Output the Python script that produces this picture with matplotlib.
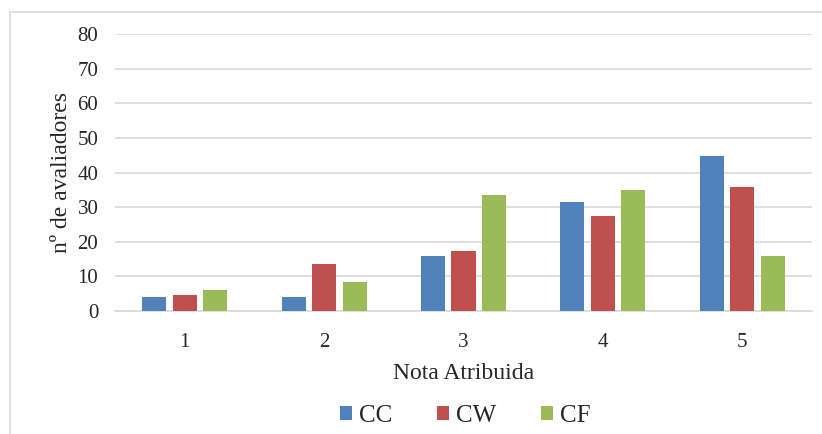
import numpy as np
import matplotlib
matplotlib.use("Agg")
import matplotlib.pyplot as plt
from matplotlib.patches import Rectangle

# data
notas = ["1", "2", "3", "4", "5"]
series = ["CC", "CW", "CF"]
cc = [3.9, 3.9, 16.0, 31.4, 44.8]
cw = [4.7, 13.7, 17.4, 27.5, 35.9]
cf = [6.2, 8.5, 33.6, 35.0, 15.9]
colors = ["#4F81BD", "#C0504D", "#9BBB59"]
yticks = [0, 10, 20, 30, 40, 50, 60, 70, 80]

plt.rcParams['font.family'] = ['Liberation Serif', 'DejaVu Serif']

fig = plt.figure(figsize=(8.22, 4.34), dpi=100)
ax = fig.add_axes([115/822, 1 - 311/434, 697/822, 277/434])

x = np.arange(len(notas))
w = 0.173
step = 0.219
for i, (vals, name) in enumerate(zip([cc, cw, cf], series)):
    ax.bar(x + (i - 1)*step, vals, w, color=colors[i], label=name, zorder=3)

ax.set_xlim(-0.5, len(notas) - 0.5)
ax.set_ylim(0, 80)
ax.set_yticks(yticks)
ax.set_xticks(x)
ax.set_xticklabels(notas)
ax.grid(axis='y', color='#D9D9D9', linewidth=1.2, zorder=0)
for s in ['top', 'right', 'left']:
    ax.spines[s].set_visible(False)
ax.spines['bottom'].set_color('#D9D9D9')
ax.spines['bottom'].set_linewidth(1.2)
ax.tick_params(axis='both', length=0, labelsize=15, colors='#262626')
ax.tick_params(axis='x', pad=16)
ax.tick_params(axis='y', pad=12)

ax.set_xlabel("Nota Atribuida", fontsize=17, color='#262626', labelpad=8)
ax.set_ylabel("nº de avaliadores", fontsize=17, color='#262626', labelpad=4)

leg = fig.legend(loc='center', bbox_to_anchor=(465/822, 1 - 416/434), ncol=3,
                 frameon=False, fontsize=18, handlelength=0.5, handleheight=0.5,
                 handletextpad=0.25, columnspacing=1.8)
for t in leg.get_texts():
    t.set_color('#262626')

# outer chart border
fig.patches.append(Rectangle((10/822, -0.1), 1.2, 1 - 12/434 + 0.1,
                             transform=fig.transFigure, fill=False,
                             edgecolor='#D9D9D9', linewidth=1.2))

fig.savefig("out.png", dpi=100)
